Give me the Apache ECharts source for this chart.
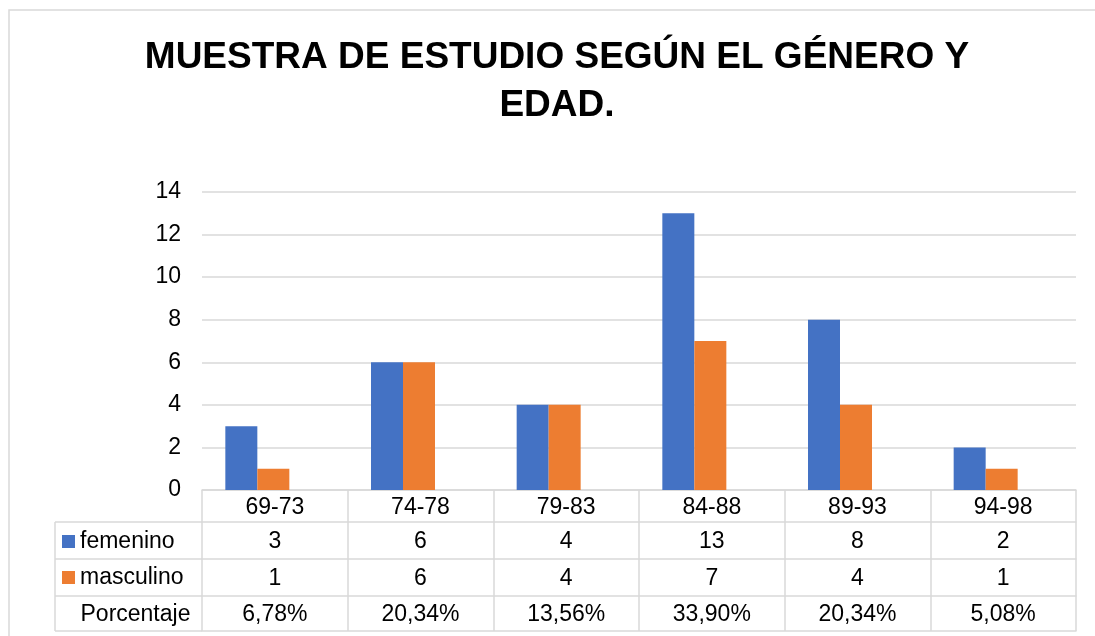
<!DOCTYPE html>
<html>
<head>
<meta charset="utf-8">
<script src="https://cdn.jsdelivr.net/npm/echarts@6/dist/echarts.min.js"></script>
<style>
  html, body { margin: 0; padding: 0; background: #ffffff; }
  #chart { width: 1095px; height: 636px; }
</style>
</head>
<body>
<div id="chart"></div>
<script>
const titleText = 'MUESTRA DE ESTUDIO SEGÚN EL GÉNERO Y\nEDAD.';
const categories = ['69-73', '74-78', '79-83', '84-88', '89-93', '94-98'];
const femenino = [3, 6, 4, 13, 8, 2];
const masculino = [1, 6, 4, 7, 4, 1];
const porcentaje = ['6,78%', '20,34%', '13,56%', '33,90%', '20,34%', '5,08%'];
const seriesNames = ['femenino', 'masculino'];
const porcentajeLabel = 'Porcentaje';
const yTicks = { min: 0, max: 14, interval: 2 };

const FONT = '"Liberation Sans", Arial, sans-serif';
const FS = 23;
const LINE = '#d9d9d9';
const BLUE = '#4472C4';
const ORANGE = '#ED7D31';

// layout constants
const G_LEFT = 202, G_RIGHT_EDGE = 1076, G_TOP = 192, G_BOTTOM = 490;
const W = 1095, H = 636;
const rows = [490, 522, 559, 596, 631]; // table row boundaries
const TABLE_LEFT = 55;
const BAR_SHIFT = 17.5;

const chart = echarts.init(document.getElementById('chart'), null, { renderer: 'canvas' });

function tableAxis(data, idx, showLabel) {
  const top = rows[idx];
  const next = rows[idx + 1];
  const h = next !== undefined ? next - top : 0;
  return {
    type: 'category',
    gridIndex: 0,
    position: 'bottom',
    offset: top - G_BOTTOM,
    data: data,
    boundaryGap: true,
    axisLine: { show: true, lineStyle: { color: LINE, width: 1.5 } },
    axisTick: { show: h > 0, length: h, interval: 0, alignWithLabel: false, lineStyle: { color: LINE, width: 1.5 } },
    axisLabel: {
      show: showLabel, interval: 0, margin: h / 2 + 1.5, verticalAlign: 'middle',
      fontFamily: FONT, fontSize: FS, color: '#000'
    },
    splitLine: { show: false }
  };
}

const leftLines = [];
leftLines.push({ type: 'line', shape: { x1: TABLE_LEFT, y1: rows[1], x2: TABLE_LEFT, y2: rows[4] }, style: { stroke: LINE, lineWidth: 1.5 } });
for (let i = 1; i <= 4; i++) {
  leftLines.push({ type: 'line', shape: { x1: TABLE_LEFT, y1: rows[i], x2: G_LEFT, y2: rows[i] }, style: { stroke: LINE, lineWidth: 1.5 } });
}

const legendBase = {
  left: 62, padding: 0, orient: 'vertical',
  icon: 'rect', itemWidth: 13, itemHeight: 13, itemGap: 5, selectedMode: false,
  textStyle: { fontFamily: FONT, fontSize: FS, color: '#000' }
};

const option = {
  animation: false,
  backgroundColor: '#ffffff',
  title: {
    text: titleText,
    left: 557,
    top: 34,
    textAlign: 'center',
    padding: 0,
    textStyle: { fontFamily: FONT, fontSize: 37, fontWeight: 'bold', color: '#000', lineHeight: 48 }
  },
  legend: [
    Object.assign({}, legendBase, { data: [seriesNames[0]], top: 530 }),
    Object.assign({}, legendBase, { data: [seriesNames[1]], top: 566 })
  ],
  grid: [
    { left: G_LEFT, right: W - G_RIGHT_EDGE, top: G_TOP, bottom: H - G_BOTTOM, containLabel: false },
    { left: G_LEFT - BAR_SHIFT, right: W - G_RIGHT_EDGE + BAR_SHIFT, top: G_TOP, bottom: H - G_BOTTOM, containLabel: false }
  ],
  xAxis: [
    tableAxis(categories, 0, true),
    tableAxis(femenino.map(String), 1, true),
    tableAxis(masculino.map(String), 2, true),
    tableAxis(porcentaje, 3, true),
    tableAxis(categories, 4, false),
    { type: 'category', gridIndex: 1, data: categories, show: false }
  ],
  yAxis: [
    {
      type: 'value', gridIndex: 0, min: yTicks.min, max: yTicks.max, interval: yTicks.interval,
      axisLine: { show: false }, axisTick: { show: false },
      axisLabel: { margin: 21, fontFamily: FONT, fontSize: FS, color: '#000' },
      splitLine: { show: true, lineStyle: { color: LINE, width: 1.5 } }
    },
    { type: 'value', gridIndex: 1, min: yTicks.min, max: yTicks.max, interval: yTicks.interval, show: false }
  ],
  series: [
    { name: seriesNames[0], type: 'bar', xAxisIndex: 5, yAxisIndex: 1, data: femenino, barWidth: 32, barGap: '0%', itemStyle: { color: BLUE } },
    { name: seriesNames[1], type: 'bar', xAxisIndex: 5, yAxisIndex: 1, data: masculino, barWidth: 32, barGap: '0%', itemStyle: { color: ORANGE } }
  ],
  graphic: [
    { type: 'rect', shape: { x: 9, y: 10, width: 1200, height: 700 }, style: { fill: null, stroke: LINE, lineWidth: 1.5 }, z: -10, silent: true },
    ...leftLines,
    { type: 'text', x: 80.5, y: (rows[3] + rows[4]) / 2 + 1.5, style: { text: porcentajeLabel, font: FS + 'px ' + FONT, fill: '#000', textVerticalAlign: 'middle', verticalAlign: 'middle' } }
  ]
};
chart.setOption(option);
</script>
</body>
</html>
